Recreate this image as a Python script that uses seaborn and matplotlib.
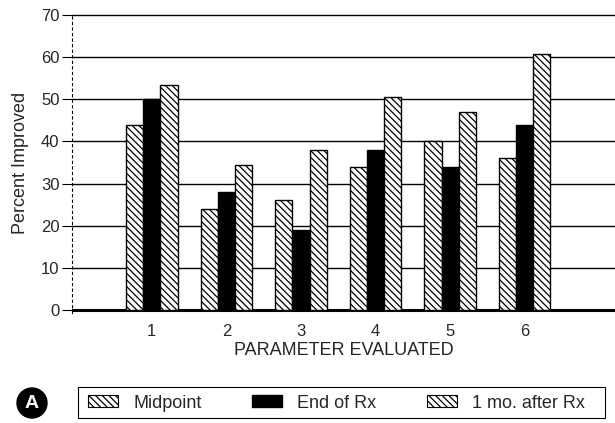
import matplotlib
matplotlib.use("Agg")
import matplotlib.pyplot as plt
import matplotlib.patches as mpatches
import seaborn as sns
import pandas as pd

categories = ["1", "2", "3", "4", "5", "6"]
series = ["Midpoint", "End of Rx", "1 mo. after Rx"]
midpoint = [44, 24, 26, 34, 40, 36]
end_of_rx = [50, 28, 19, 38, 34, 44]
one_mo_after = [53.5, 34.5, 38, 50.5, 47, 60.7]
yticks = [0, 10, 20, 30, 40, 50, 60, 70]

rows = []
for name, vals in zip(series, [midpoint, end_of_rx, one_mo_after]):
    for c, v in zip(categories, vals):
        rows.append({"Parameter": c, "Series": name, "Value": v})
df = pd.DataFrame(rows)

sns.set_theme(style="white")
plt.rcParams["font.family"] = ["Liberation Sans", "DejaVu Sans"]
plt.rcParams["hatch.linewidth"] = 0.9

W, H = 615, 423
fig = plt.figure(figsize=(6.15, 4.23), dpi=100)
# y: 0 -> px 310, 70 -> px 15 ; ylim(-0.8, 70.5)
ppu = (310 - 15) / 70.0
bot_px = 310 + 0.8 * ppu
top_px = 15 - 0.5 * ppu
ax = fig.add_axes([72 / W, 1 - bot_px / H, 1 - 72 / W, (bot_px - top_px) / H])

sns.barplot(data=df, x="Parameter", y="Value", hue="Series", order=categories,
            hue_order=series, palette=["white", "black", "white"],
            width=0.69, edgecolor="black", linewidth=1.0, ax=ax, legend=False,
            errorbar=None, saturation=1)

hatches = ["\\\\\\\\\\", None, "\\\\\\\\\\"]
for cont, h in zip(ax.containers, hatches):
    for bar in cont:
        if h:
            bar.set_hatch(h)

ax.set_xlim(-1.07, 6.21)
ax.set_ylim(-0.8, 70.5)
ax.set_yticks(yticks)
ax.set_yticklabels([str(t) for t in yticks], fontsize=12)
for t in yticks:
    ax.axhline(t, color="black", linewidth=1.0, zorder=0)
ax.axhline(0, color="black", linewidth=2.2, zorder=0)

for s in ["top", "right", "bottom"]:
    ax.spines[s].set_visible(False)
ax.spines["left"].set_linestyle((0, (2, 3)))
ax.spines["left"].set_linewidth(0.8)
ax.spines["left"].set_color("black")
ax.tick_params(axis="y", left=True, length=7, width=0.8, color="black", pad=2)
ax.tick_params(axis="x", bottom=False, labelsize=12, pad=2)

ax.set_ylabel("Percent Improved", fontsize=13, labelpad=6)
ax.yaxis.set_label_coords((29 - 72) / (W - 72), 0.5)
ax.set_xlabel("PARAMETER EVALUATED", fontsize=13, labelpad=2)

handles = [mpatches.Patch(facecolor="white", edgecolor="black", hatch="\\\\\\\\\\", linewidth=0.8),
           mpatches.Patch(facecolor="black", edgecolor="black"),
           mpatches.Patch(facecolor="white", edgecolor="black", hatch="\\\\\\\\\\", linewidth=0.8)]
leg = fig.legend(handles, series, ncol=3, loc="center left",
                 bbox_to_anchor=(88 / W, 1 - 403 / H),
                 frameon=False, fontsize=13, borderpad=0, borderaxespad=0,
                 handlelength=1.67, handleheight=0.67,
                 handletextpad=0.83, columnspacing=2.8)

fig.patches.append(mpatches.Rectangle((78 / W, 1 - 418 / H), (605 - 78) / W, 31 / H,
                                      transform=fig.transFigure, facecolor="none",
                                      edgecolor="black", linewidth=0.8))
fig.patches.append(mpatches.Ellipse((32 / W, 1 - 403 / H), 30 / W, 30 / H,
                                    transform=fig.transFigure, facecolor="black",
                                    edgecolor="black"))
fig.text(32 / W, 1 - 403 / H, "A", color="white", fontsize=14,
         fontweight="bold", ha="center", va="center")

fig.savefig("out.png", dpi=100)
